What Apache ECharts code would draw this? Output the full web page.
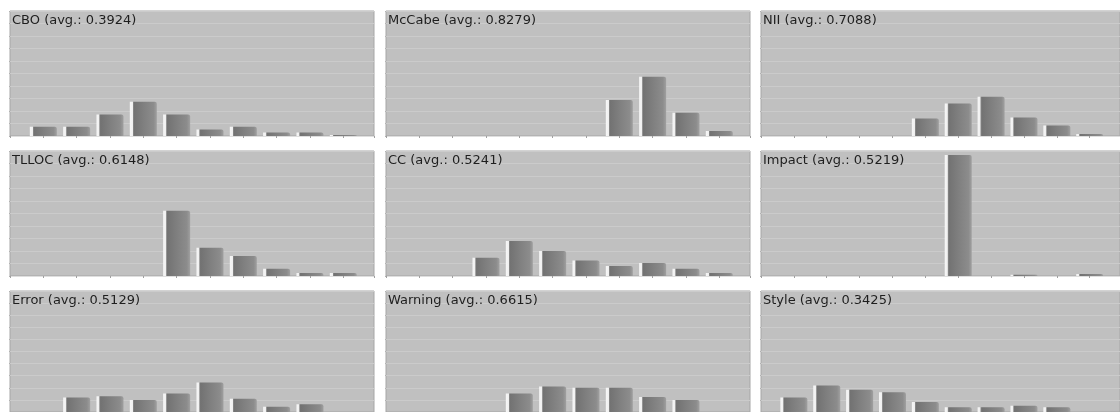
<!DOCTYPE html>
<html>
<head>
<meta charset="utf-8">
<script src="https://cdn.jsdelivr.net/npm/echarts@6/dist/echarts.min.js"></script>
<style>
html,body{margin:0;padding:0;background:#ffffff;}
#chart{width:1120px;height:412px;}
</style>
</head>
<body>
<div id="chart"></div>
<script>
// Histogram bins (bin centres) shared by all panels
const bins = [0.1, 0.2, 0.3, 0.4, 0.5, 0.6, 0.7, 0.8, 0.9, 1.0];

// Panel names and averages
const metricNames = ["CBO", "McCabe", "NII", "TLLOC", "CC", "Impact", "Error", "Warning", "Style"];
const metricAvgs = ["0.3924", "0.8279", "0.7088", "0.6148", "0.5241", "0.5219", "0.5129", "0.6615", "0.3425"];

// Relative frequencies per bin
const cbo     = [0.075, 0.075, 0.173, 0.275, 0.173, 0.053, 0.075, 0.029, 0.029, 0.008];
const mccabe  = [0, 0, 0, 0, 0, 0, 0.288, 0.475, 0.187, 0.040];
const nii     = [0, 0, 0, 0, 0.141, 0.261, 0.315, 0.149, 0.085, 0.016];
const tlloc   = [0, 0, 0, 0, 0.523, 0.227, 0.160, 0.059, 0.024, 0.024];
const cc      = [0, 0, 0.147, 0.280, 0.200, 0.125, 0.080, 0.104, 0.059, 0.024];
const impact  = [0, 0, 0, 0, 0, 0.968, 0, 0.010, 0, 0.016];
const errorV  = [0, 0.120, 0.131, 0.099, 0.152, 0.243, 0.109, 0.043, 0.064, 0];
const warning = [0, 0, 0, 0.152, 0.211, 0.200, 0.200, 0.123, 0.099, 0];
const style   = [0.120, 0.219, 0.184, 0.163, 0.083, 0.040, 0.040, 0.051, 0.040, 0];

const seriesValues = [cbo, mccabe, nii, tlloc, cc, impact, errorV, warning, style];

// Layout
const colLefts = [10, 386, 761];
const rowTops = [11, 151, 291];
const panelW = 364, panelH = 125;
const unitPx = 33.33;          // pixels per bin step

const chart = echarts.init(document.getElementById('chart'), null, {renderer: 'canvas'});

const grids = [], xAxes = [], yAxes = [], series = [], titles = [];
const barColor = new echarts.graphic.LinearGradient(0, 0, 1, 0, [
  {offset: 0, color: '#f6f6f6'},
  {offset: 0.1, color: '#f0f0f0'},
  {offset: 0.11, color: '#a8a8a8'},
  {offset: 0.15, color: '#727272'},
  {offset: 0.5, color: '#7f7f7f'},
  {offset: 0.88, color: '#8c8c8c'},
  {offset: 1, color: '#a0a0a0'}
]);

for (let i = 0; i < 9; i++) {
  const r = Math.floor(i / 3), c = i % 3;
  const left = colLefts[c], top = rowTops[r];
  grids.push({
    left: left, top: top, width: panelW, height: panelH,
    show: true, backgroundColor: '#c0c0c0', borderColor: '#a6a6a6', borderWidth: 1,
    containLabel: false
  });
  xAxes.push({
    type: 'value', gridIndex: i, min: 0, max: panelW / unitPx / 10, interval: 0.1,
    axisLine: {show: true, lineStyle: {color: '#dedede', width: 1}},
    axisTick: {show: true, length: 2, lineStyle: {color: '#a0a0a0'}},
    axisLabel: {show: false},
    splitLine: {show: false}
  });
  yAxes.push({
    type: 'value', gridIndex: i, min: 0, max: 1, interval: 0.1,
    axisLine: {show: false},
    axisTick: {show: true, length: 1, lineStyle: {color: '#b0b0b0'}},
    axisLabel: {show: false},
    splitLine: {show: true, lineStyle: {color: '#cbcbcb', width: 1}}
  });
  series.push({
    type: 'bar', xAxisIndex: i, yAxisIndex: i,
    barWidth: 27,
    data: bins.map((b, k) => [b, seriesValues[i][k]]),
    itemStyle: {color: barColor, borderRadius: [0, 2, 0, 0]},
    silent: true, animation: false
  });
  titles.push({
    text: metricNames[i] + ' (avg.: ' + metricAvgs[i] + ')',
    left: left + 2, top: top + 3, padding: 0,
    textStyle: {fontFamily: 'DejaVu Sans', fontSize: 13, fontWeight: 'normal', color: '#1e1e1e'}
  });
}

chart.setOption({
  animation: false,
  backgroundColor: '#ffffff',
  title: titles,
  grid: grids,
  xAxis: xAxes,
  yAxis: yAxes,
  series: series
});
</script>
</body>
</html>
